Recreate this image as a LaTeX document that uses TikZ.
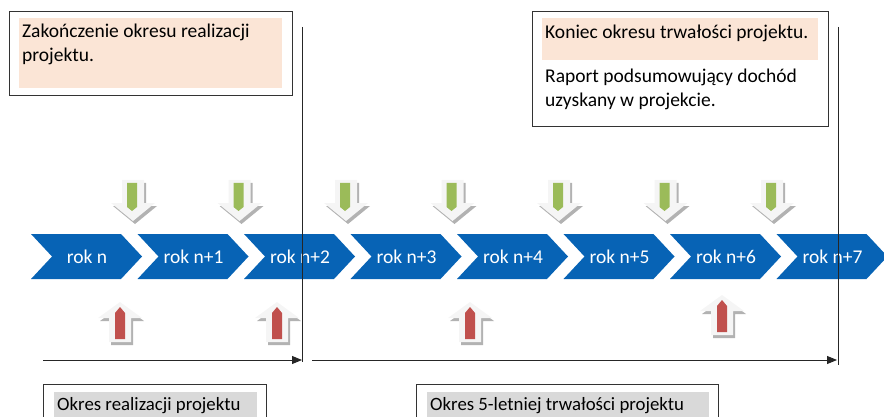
\documentclass[tikz,border=0pt]{standalone}
\usepackage{fontspec}
\setmainfont{Carlito}
\usetikzlibrary{arrows.meta}
\definecolor{chevblue}{RGB}{7,99,181}
\definecolor{peach}{RGB}{251,229,214}
\definecolor{labgray}{RGB}{217,217,217}
\definecolor{bargreen}{RGB}{155,187,89}
\definecolor{barred}{RGB}{192,80,77}

\begin{document}
\begin{tikzpicture}
	[x=1pt, y=-1pt,
	every node/.style={inner sep=0pt, font=\fontsize{19.5}{24}\selectfont},
	boxtext/.style={anchor=base west, align=left},
	frame/.style={draw=black!80, line width=1pt},
	rok/.style={text=white},
	timeline/.style={draw=black!85, line width=1pt, -{Triangle[length=10pt,width=8pt]}},
	pics/down/.style={code={
		\fill[black!30] (-9,3) -- (13,3) -- (13,26) -- (24,26) -- (2,44) -- (-20,26) -- (-9,26) -- cycle;
		\fill[black!4] (-11,0) -- (11,0) -- (11,23) -- (22,23) -- (0,41) -- (-22,23) -- (-11,23) -- cycle;
		\fill[bargreen] (-6,3) -- (4,3) -- (4,27) -- (-1,31) -- (-6,27) -- cycle;}},
	pics/up/.style={code={
		\fill[black!30] (2,3) -- (24,19) -- (13,19) -- (13,43) -- (-9,43) -- (-9,19) -- (-20,19) -- cycle;
		\fill[black!4] (0,0) -- (22,16) -- (11,16) -- (11,40) -- (-11,40) -- (-11,16) -- (-22,16) -- cycle;
		\fill[barred] (-5,37) -- (-5,11) -- (0,5) -- (5,11) -- (5,37) -- cycle;}}]
	\useasboundingbox (0,0) rectangle (884,417);
	% top boxes
	\fill[peach] (19,18) rectangle (282,88);
	\draw[frame] (9,12) rectangle (292,96);
	\node (zak) [boxtext] at (22,62) {Zakończenie okresu realizacji\\projektu.};
	\fill[peach] (542,18) rectangle (818,60);
	\draw[frame] (532,12) rectangle (828,127);
	\node (kon) [boxtext] at (545,39) {Koniec okresu trwałości projektu.};
	\node (rap) [boxtext] at (545,107) {Raport podsumowujący dochód\\uzyskany w projekcie.};
	% chevrons
	\foreach \i/\lab in {0/rok n,1/rok n+1,2/rok n+2,3/rok n+3,4/rok n+4,5/rok n+5,6/rok n+6,7/rok n+7}{
		\pgfmathsetmacro\xo{31+106.5*\i}
		\fill[chevblue] (\xo,234) -- ++(90,0) -- ++(21,22.5) -- ++(-21,22.5) -- ++(-90,0) -- ++(21,-22.5) -- cycle;
		\node (rok\i) [rok] at (\xo+56,257) {\lab};
	}
	\foreach \i in {0,...,6}
		\pic at (133+106.5*\i,180) {down};
	\pic at (120,302) {up};
	\pic at (277,302) {up};
	\pic at (470,302) {up};
	\pic at (722,295) {up};
	% time lines
	\coordinate (v1top) at (302,27);
	\coordinate (v1bot) at (302,362);
	\coordinate (v2top) at (838,27);
	\coordinate (v2bot) at (838,365);
	\coordinate (r1) at (43,360);
	\coordinate (r2) at (312,360);
	\coordinate (r2end) at (837,360);
	\draw[draw=black!85, line width=1pt] (v1top) -- (v1bot);
	\draw[draw=black!85, line width=1pt] (v2top) -- (v2bot);
	\draw[timeline] (r1) -- (v1bot |- r1);
	\draw[timeline] (r2) -- (r2end);
	% bottom boxes
	\fill[labgray] (54,392) rectangle (257,417);
	\draw[frame] (43,417) -- (43,384) -- (266,384) -- (266,417);
	\node (okr) [boxtext, font=\fontsize{18.8}{24}\selectfont] at (57,410) {Okres realizacji projektu};
	\fill[labgray] (427,392) rectangle (709,417);
	\draw[frame] (416,417) -- (416,384) -- (718,384) -- (718,417);
	\node (okt) [boxtext, font=\fontsize{18.8}{24}\selectfont] at (430,410) {Okres 5-letniej trwałości projektu};
\end{tikzpicture}
\end{document}
